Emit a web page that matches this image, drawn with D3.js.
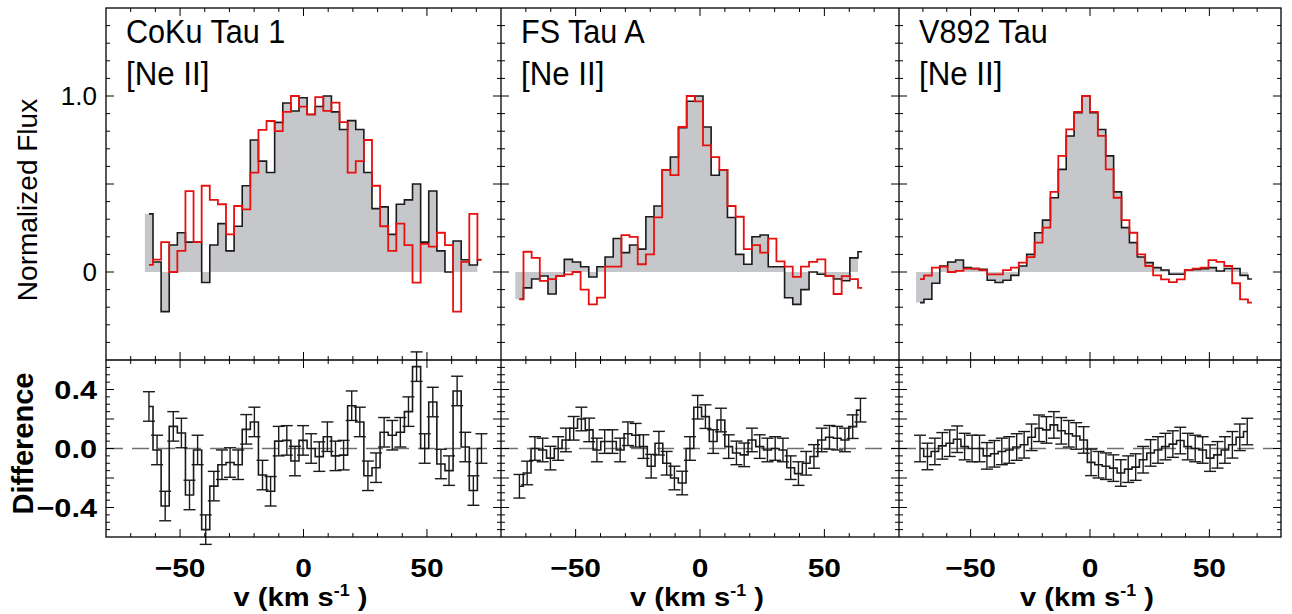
<!DOCTYPE html>
<html>
<head>
<meta charset="utf-8">
<script src="https://cdn.jsdelivr.net/npm/d3@7"></script>
<style>
body { margin: 0; background: #fff; }
text { font-family: "Liberation Sans", Arial, sans-serif; fill: #000; }
</style>
</head>
<body>
<div id="chart"></div>
<script>

// ---- data (velocities in km/s, flux normalized to peak) ----
var targets = ["CoKu Tau 1", "FS Tau A", "V892 Tau"];
var lineName = "[Ne II]";

// CoKu Tau 1
var cokuV0 = -62.6, cokuDv = 3.285;
var cokuFlux = [0.33, 0.057, -0.225, 0.153, 0.223, 0.17, 0.17, -0.06, 0.153, 0.275, 0.12, 0.26, 0.49, 0.75,
    0.63, 0.565, 0.85, 0.96, 0.915, 0.99, 0.895, 0.94, 1.0, 0.91, 0.81, 0.86, 0.81, 0.565, 0.36, 0.37, 0.214,
    0.385, 0.41, 0.5, 0.17, 0.46, 0.12, 0.0, 0.176, 0.07, 0.04, 0.07];
var cokuMirror = [0.04, 0.07, 0.17, 0.0, 0.12, 0.46, 0.17, 0.49, 0.41, 0.385, 0.214, 0.375, 0.356, 0.565,
    0.807, 0.858, 0.80, 0.91, 1.0, 0.94, 0.896, 0.994, 0.915, 0.962, 0.852, 0.565, 0.63, 0.75, 0.49, 0.26,
    0.12, 0.275, 0.153, -0.06, 0.16, 0.144, 0.223, 0.153, -0.225, 0.057, 0.33, 0.07];
var cokuDiffV0 = -62.6, cokuDiffDv = 3.285;
var cokuDiff = [0.285, -0.01, -0.39, 0.15, 0.105, -0.315, -0.01, -0.55, -0.255, -0.11, -0.095, -0.11, 0.13,
    0.18, -0.18, -0.29, 0.05, 0.055, -0.085, 0.055, 0.0, -0.055, 0.08, -0.05, -0.045, 0.29, 0.18, -0.185,
    -0.13, 0.11, 0.09, 0.11, 0.25, 0.555, 0.0, 0.315, -0.105, -0.15, 0.39, 0.01, -0.285, 0.0];
var cokuErr = 0.1;

// FS Tau A
var fsV0 = -72.6, fsDv = 3.28;
var fsFlux = [-0.155, -0.09, -0.04, -0.023, -0.125, -0.023, 0.072, 0.057, 0.03, -0.028, 0.03, 0.085, 0.19,
    0.11, 0.153, 0.13, 0.314, 0.375, 0.58, 0.653, 0.82, 0.97, 1.0, 0.824, 0.55, 0.58, 0.31, 0.1, 0.044, 0.2,
    0.21, 0.03, 0.03, -0.146, -0.184, -0.1, 0.0, -0.013, -0.023, -0.04, -0.05, 0.08, 0.115];
var fsMirror = [-0.155, 0.115, 0.08, -0.05, -0.04, -0.023, -0.013, 0.0, -0.1, -0.184, -0.146, 0.03, 0.03,
    0.21, 0.2, 0.044, 0.1, 0.31, 0.58, 0.55, 0.824, 1.0, 0.97, 0.72, 0.653, 0.58, 0.375, 0.314, 0.13, 0.153,
    0.11, 0.19, 0.06, 0.03, -0.028, 0.03, 0.057, 0.072, -0.023, -0.125, -0.023, -0.04, -0.09];
var fsDiffV0 = -72.6, fsDiffDv = 3.116;
var fsDiff = [-0.256, -0.166, 0.0, -0.01, -0.065, 0.0, 0.058, 0.137, 0.2, 0.126, -0.01, 0.047, 0.047, -0.01,
    0.1, 0.09, 0.013, -0.12, 0.036, -0.1, -0.2, -0.234, 0.0, 0.28, 0.216, 0.047, 0.193, 0.013, -0.03, -0.043,
    0.058, 0.013, -0.01, 0.0, -0.01, -0.13, -0.17, -0.1, -0.054, 0.058, 0.076, 0.07, 0.058, 0.148, 0.26];
var fsErr = 0.08;

// V892 Tau
var vV0 = -71.2, vDv = 3.31;
var vFlux = [-0.174, -0.155, -0.064, 0.034, 0.057, 0.068, 0.025, 0.019, 0.015, -0.047, -0.06, -0.047, -0.019,
    0.034, 0.1, 0.223, 0.295, 0.422, 0.583, 0.773, 0.905, 1.0, 0.905, 0.81, 0.66, 0.455, 0.252, 0.167, 0.085,
    0.053, 0.025, 0.011, -0.013, -0.013, 0.011, 0.015, 0.019, 0.025, 0.006, 0.02, 0.02, -0.019, -0.04];
var vMirror = [-0.04, -0.02, 0.025, 0.03, 0.0, 0.006, 0.019, 0.019, 0.011, -0.013, -0.013, 0.011, 0.025,
    0.053, 0.085, 0.167, 0.252, 0.455, 0.66, 0.81, 0.91, 1.0, 0.91, 0.773, 0.583, 0.422, 0.295, 0.223, 0.1,
    0.034, -0.019, -0.042, -0.057, -0.042, 0.011, 0.019, 0.025, 0.068, 0.057, 0.034, -0.064, -0.155, -0.174];
var vDiffV0 = -71.2, vDiffDv = 3.115;
var vDiff = [0.0, -0.054, -0.02, 0.018, 0.036, 0.063, 0.013, 0.0, 0.0, -0.05, -0.036, -0.02, -0.01, 0.01,
    0.025, 0.076, 0.137, 0.126, 0.16, 0.12, 0.1, 0.085, 0.058, -0.094, -0.11, -0.12, -0.133, -0.166, -0.14,
    -0.126, -0.076, -0.03, -0.01, 0.013, 0.03, 0.054, 0.013, 0.0, -0.01, -0.065, -0.043, -0.01, 0.025, 0.076,
    0.115];
var vErr = 0.09;

// axis ticks
var velTicks = [-50, 0, 50];
var velMinor = [-70, -60, -40, -30, -20, -10, 10, 20, 30, 40, 60, 70];
var fluxLabels = [0, 1.0];
var diffLabels = [-0.4, 0.0, 0.4];

var spectra = [
    { v0: cokuV0, dv: cokuDv, flux: cokuFlux, mirror: cokuMirror, dv0: cokuDiffV0, ddv: cokuDiffDv, diff: cokuDiff, err: cokuErr },
    { v0: fsV0, dv: fsDv, flux: fsFlux, mirror: fsMirror, dv0: fsDiffV0, ddv: fsDiffDv, diff: fsDiff, err: fsErr },
    { v0: vV0, dv: vDv, flux: vFlux, mirror: vMirror, dv0: vDiffV0, ddv: vDiffDv, diff: vDiff, err: vErr }
];

// ---- layout ----
var width = 1292, height = 614;
var panelX = [[106, 501], [501, 899], [899, 1281]];
var topTop = 8, mid = 360, botBottom = 537;

var svg = d3.select("#chart").append("svg")
    .attr("width", width)
    .attr("height", height);

var yTop = d3.scaleLinear().domain([-0.5, 1.5]).range([mid, topTop]);
var yBot = d3.scaleLinear().domain([-0.6, 0.6]).range([botBottom, mid]);

var major = 8, minor = 4;

function toPoints(v0, dv, vals) {
    return vals.map(function(d, i) { return { v: v0 + i * dv, y: d }; });
}

// text squeezed or stretched sideways around its anchor
function label(parent, x, y, sx, size, weight, anchor, str) {
    return parent.append("text")
        .attr("transform", "translate(" + x + "," + y + ") scale(" + sx + ",1)")
        .attr("text-anchor", anchor)
        .style("font-size", size + "px")
        .style("font-weight", weight)
        .text(str);
}

spectra.forEach(function(s, k) {
    var x = d3.scaleLinear().domain([-80, 80]).range(panelX[k]);
    var g = svg.append("g");

    // grey filled histogram: one full bin per point, last point left out
    var pts = toPoints(s.v0, s.dv, s.flux);
    var edges = [];
    pts.slice(0, -1).forEach(function(p) {
        edges.push({ v: p.v - s.dv / 2, y: p.y });
        edges.push({ v: p.v + s.dv / 2, y: p.y });
    });
    g.append("path")
        .datum(edges)
        .attr("fill", "#c6c7ca")
        .attr("d", d3.area()
            .x(function(d) { return x(d.v); })
            .y0(yTop(0))
            .y1(function(d) { return yTop(d.y); }));

    var stepTop = d3.line()
        .curve(d3.curveStep)
        .x(function(d) { return x(d.v); })
        .y(function(d) { return yTop(d.y); });

    g.append("path")
        .datum(pts)
        .attr("fill", "none")
        .attr("stroke", "#1a1a1a")
        .attr("stroke-width", 1.6)
        .attr("d", stepTop);

    g.append("path")
        .datum(toPoints(s.v0, s.dv, s.mirror))
        .attr("fill", "none")
        .attr("stroke", "#e8100f")
        .attr("stroke-width", 1.8)
        .attr("d", stepTop);

    // difference panel
    g.append("line")
        .attr("x1", panelX[k][0]).attr("x2", panelX[k][1])
        .attr("y1", yBot(0)).attr("y2", yBot(0))
        .attr("stroke", "#707070")
        .attr("stroke-width", 1.3)
        .attr("stroke-dasharray", "17,9");

    var dpts = toPoints(s.dv0, s.ddv, s.diff);
    var eb = g.append("g").attr("stroke", "#1a1a1a").attr("stroke-width", 1.4);
    dpts.forEach(function(p) {
        var cx = x(p.v);
        eb.append("line").attr("x1", cx).attr("x2", cx)
            .attr("y1", yBot(p.y - s.err)).attr("y2", yBot(p.y + s.err));
        eb.append("line").attr("x1", cx - 6).attr("x2", cx + 6)
            .attr("y1", yBot(p.y - s.err)).attr("y2", yBot(p.y - s.err));
        eb.append("line").attr("x1", cx - 6).attr("x2", cx + 6)
            .attr("y1", yBot(p.y + s.err)).attr("y2", yBot(p.y + s.err));
    });

    g.append("path")
        .datum(dpts)
        .attr("fill", "none")
        .attr("stroke", "#1a1a1a")
        .attr("stroke-width", 1.6)
        .attr("d", d3.line()
            .curve(d3.curveStep)
            .x(function(d) { return x(d.v); })
            .y(function(d) { return yBot(d.y); }));

    // x ticks, inward on every horizontal border
    [[topTop, 1], [mid, -1], [mid, 1], [botBottom, -1]].forEach(function(b) {
        velTicks.concat(velMinor).forEach(function(t) {
            var len = velTicks.indexOf(t) >= 0 ? major : minor;
            g.append("line")
                .attr("x1", x(t)).attr("x2", x(t))
                .attr("y1", b[0]).attr("y2", b[0] + b[1] * len)
                .attr("stroke", "#000").attr("stroke-width", 1);
        });
    });

    // y ticks, inward on both vertical borders
    var fluxT = d3.range(-4, 15).map(function(d) { return d / 10; });
    var diffT = d3.range(-11, 12).map(function(d) { return d * 0.05; });
    [[panelX[k][0], 1], [panelX[k][1], -1]].forEach(function(b) {
        fluxT.forEach(function(t) {
            var len = (Math.abs(t * 2 - Math.round(t * 2)) < 1e-6) ? major : minor;
            g.append("line")
                .attr("x1", b[0]).attr("x2", b[0] + b[1] * len)
                .attr("y1", yTop(t)).attr("y2", yTop(t))
                .attr("stroke", "#000").attr("stroke-width", 1);
        });
        diffT.forEach(function(t) {
            var len = (Math.abs(t * 5 - Math.round(t * 5)) < 1e-6) ? major : minor;
            g.append("line")
                .attr("x1", b[0]).attr("x2", b[0] + b[1] * len)
                .attr("y1", yBot(t)).attr("y2", yBot(t))
                .attr("stroke", "#000").attr("stroke-width", 1);
        });
    });

    // x tick labels and axis title
    velTicks.forEach(function(t) {
        label(g, x(t), 577, 1.15, 26, "bold", "middle", d3.format("d")(t));
    });
    var xl = g.append("text")
        .attr("transform", "translate(" + (x(0) - 3) + ",606) scale(1.12,1)")
        .attr("text-anchor", "middle")
        .style("font-size", "26px").style("font-weight", "bold");
    xl.append("tspan").text("v (km s");
    xl.append("tspan").attr("dy", -10).style("font-size", "16px").text("-1");
    xl.append("tspan").attr("dy", 10).text(" )");

    // star and line names
    label(g, panelX[k][0] + 20, 43, 0.9, 34, "normal", "start", targets[k]);
    label(g, panelX[k][0] + 20, 85, 0.92, 34, "normal", "start", lineName);
});

// frames
svg.append("rect")
    .attr("x", panelX[0][0]).attr("y", topTop)
    .attr("width", panelX[2][1] - panelX[0][0]).attr("height", botBottom - topTop)
    .attr("fill", "none").attr("stroke", "#000").attr("stroke-width", 1.3);
svg.append("line")
    .attr("x1", panelX[0][0]).attr("x2", panelX[2][1])
    .attr("y1", mid).attr("y2", mid)
    .attr("stroke", "#000").attr("stroke-width", 1.3);
[panelX[1][0], panelX[2][0]].forEach(function(px) {
    svg.append("line")
        .attr("x1", px).attr("x2", px)
        .attr("y1", topTop).attr("y2", botBottom)
        .attr("stroke", "#000").attr("stroke-width", 1.3);
});

// y tick labels
fluxLabels.forEach(function(t) {
    label(svg, 97, yTop(t) + 9, 1.0, 26, "normal", "end", t === 0 ? "0" : d3.format(".1f")(t));
});
diffLabels.forEach(function(t) {
    label(svg, 97, yBot(t) + 9, 1.18, 26, "bold", "end", d3.format(".1f")(t));
});

// axis titles
svg.append("text")
    .attr("transform", "translate(37," + ((topTop + mid) / 2 + 16) + ") rotate(-90)")
    .attr("text-anchor", "middle")
    .style("font-size", "28px")
    .text("Normalized Flux");
svg.append("text")
    .attr("transform", "translate(33," + ((mid + botBottom) / 2 - 5) + ") rotate(-90)")
    .attr("text-anchor", "middle")
    .style("font-size", "29px").style("font-weight", "bold")
    .text("Difference");

</script>
</body>
</html>
